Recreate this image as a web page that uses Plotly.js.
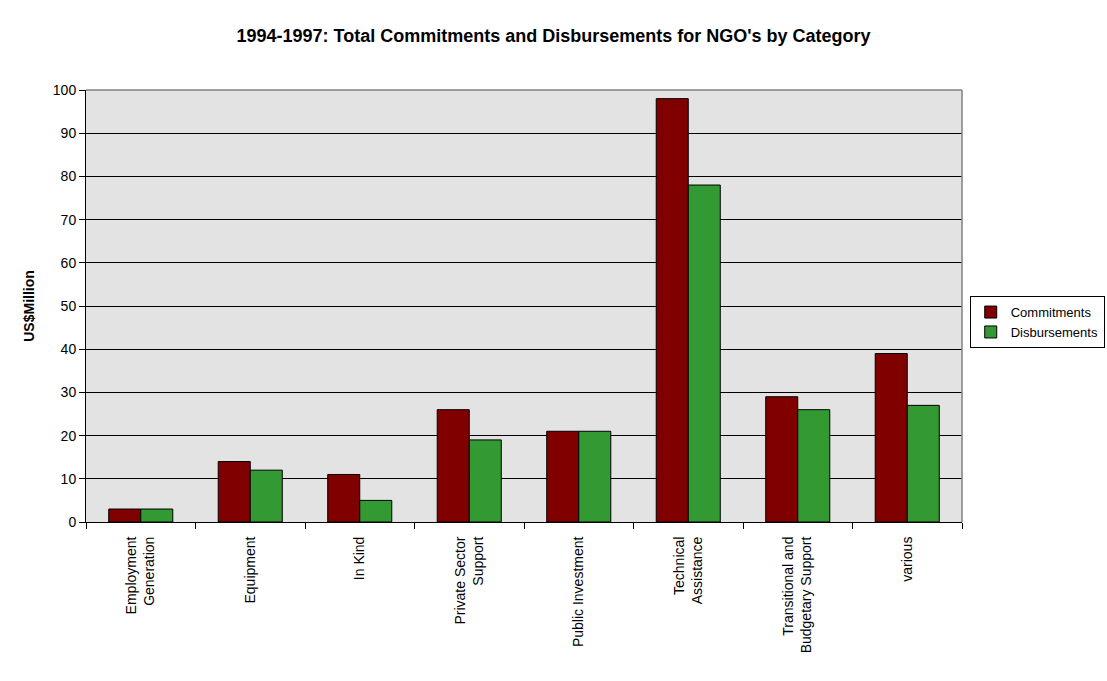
<!DOCTYPE html>
<html>
<head>
<meta charset="utf-8">
<script src="https://cdn.plot.ly/plotly-3.0.1.min.js"></script>
<style>
  body { margin: 0; background: #fff; }
  #chart { width: 1107px; height: 681px; }
</style>
</head>
<body>
<div id="chart"></div>
<script>
// categories as shown on the x axis (line breaks as in the picture)
var categories = [
  "Employment<br>Generation",
  "Equipment",
  "In Kind",
  "Private Sector<br>Support",
  "Public Investment",
  "Technical<br>Assistance",
  "Transitional and<br>Budgetary Support",
  "various"
];
var commitments   = [3, 14, 11, 26, 21, 98, 29, 39];
var disbursements = [3, 12, 5, 19, 21, 78, 26, 27];

var data = [
  {
    type: 'bar',
    name: 'Commitments',
    x: categories,
    y: commitments,
    marker: { color: '#800000', line: { color: '#000', width: 1 } }
  },
  {
    type: 'bar',
    name: 'Disbursements',
    x: categories,
    y: disbursements,
    marker: { color: '#339933', line: { color: '#000', width: 1 } }
  }
];

var layout = {
  width: 1107,
  height: 681,
  margin: { l: 86, r: 145, t: 90, b: 159 },
  paper_bgcolor: '#ffffff',
  plot_bgcolor: '#e3e3e3',
  font: { family: 'Arial, Liberation Sans, sans-serif', size: 14, color: '#000' },
  title: {
    text: "<b>1994-1997: Total Commitments and Disbursements for NGO's by Category</b>",
    font: { size: 18 },
    xref: 'container', x: 0.5, xanchor: 'center',
    yref: 'container', y: 0.947, yanchor: 'middle'
  },
  barmode: 'group',
  bargap: 0.415,
  bargroupgap: 0,
  xaxis: {
    type: 'category',
    tickangle: -90,
    tickson: 'boundaries',
    ticks: 'outside',
    ticklen: 6,
    tickcolor: '#000',
    ticklabelstandoff: 8,
    showline: true,
    linecolor: '#000',
    linewidth: 1,
    showgrid: false,
    tickfont: { size: 14 },
    automargin: false
  },
  yaxis: {
    range: [0, 100],
    dtick: 10,
    ticks: 'outside',
    ticklen: 6,
    tickcolor: '#000',
    showline: true,
    linecolor: '#000',
    linewidth: 1,
    showgrid: true,
    gridcolor: '#000',
    gridwidth: 1,
    zeroline: false,
    tickfont: { size: 14 },
    title: { text: '<b>US$Million</b>', font: { size: 14 }, standoff: 14 },
    automargin: false
  },
  shapes: [
    { type: 'line', xref: 'paper', yref: 'paper', x0: 0, x1: 1, y0: 1, y1: 1,
      line: { color: '#808080', width: 1.5 } },
    { type: 'line', xref: 'paper', yref: 'paper', x0: 1, x1: 1, y0: 0, y1: 1,
      line: { color: '#808080', width: 1.5 } }
  ],
  showlegend: true,
  legend: {
    xref: 'container', yref: 'container',
    x: 0.876, xanchor: 'left',
    y: 0.527, yanchor: 'middle',
    bordercolor: '#000',
    borderwidth: 1,
    bgcolor: '#fff',
    font: { size: 13 },
    tracegroupgap: 0,
    itemwidth: 30
  }
};

Plotly.newPlot('chart', data, layout, { displayModeBar: false, staticPlot: true });
</script>
</body>
</html>
